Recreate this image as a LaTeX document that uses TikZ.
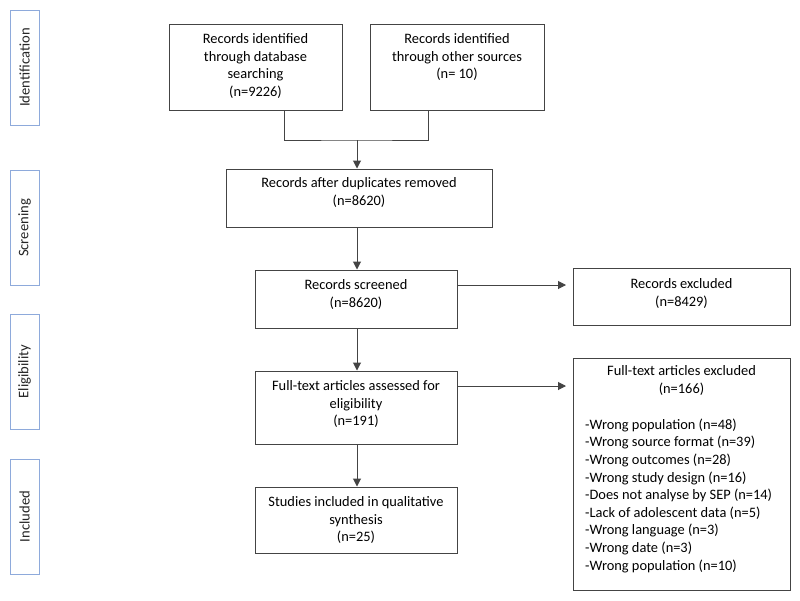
\documentclass[tikz,border=0pt]{standalone}
\usepackage{fontspec}
\setmainfont{Carlito}
\usetikzlibrary{arrows.meta}
\definecolor{boxline}{HTML}{444444}
\definecolor{sideline}{HTML}{8EAADB}
\definecolor{txtcol}{HTML}{000000}
\tikzset{
  mainbox/.style={draw=boxline, line width=1pt, inner sep=0pt, fill=white},
  sidebox/.style={draw=sideline, line width=1pt, inner sep=0pt, minimum width=29pt, minimum height=115pt},
  txt/.style={inner sep=0pt, text=txtcol, align=center, font={\fontsize{14.4}{17.6}\selectfont}},
  listtxt/.style={inner sep=0pt, text=txtcol, align=left, font={\fontsize{14.4}{17.6}\selectfont}},
  sidetxt/.style={inner sep=0pt, text=black!85, rotate=90, font={\fontsize{14.6}{17.6}\selectfont}},
  conn/.style={draw=boxline, line width=1pt},
  arr/.style={conn, -{Triangle[width=8pt,length=8pt]}}
}
\begin{document}
\begin{tikzpicture}[x=1pt, y=-1pt]
\useasboundingbox[fill=white] (0,0) rectangle (800,600);

% side labels
\node[sidebox] (sid) at (24.5,67.5) {};
\node[sidetxt] (sidt) at (sid.center) {Identification};
\node[sidebox] (ssc) at (24.5,228) {};
\node[sidetxt] (ssct) at (ssc.center) {Screening};
\node[sidebox] (sel) at (24.5,371.5) {};
\node[sidetxt] (selt) at (sel.center) {Eligibility};
\node[sidebox] (sin) at (24.5,516.5) {};
\node[sidetxt] (sint) at (sin.center) {Included};

% boxes
\node[mainbox, minimum width=173pt, minimum height=86pt] (a) at (255.5,67) {};
\node[txt, anchor=north] (at) at (255.5,33.5) {Records identified\\through database\\searching\\(n=9226)};

\node[mainbox, minimum width=174pt, minimum height=86pt] (b) at (457,67) {};
\node[txt, anchor=north] (bt) at (457,33.5) {Records identified\\through other sources\\(n= 10)};

\node[mainbox, minimum width=266pt, minimum height=58pt] (c) at (359,198) {};
\node[txt, anchor=north] (ct) at (359,177.5) {Records after duplicates removed\\[0.5pt](n=8620)};

\node[mainbox, minimum width=202pt, minimum height=58pt] (d) at (356,299) {};
\node[txt, anchor=north] (dt) at (356,279.5) {Records screened\\[0.5pt](n=8620)};

\node[mainbox, minimum width=217pt, minimum height=57pt] (e) at (681.5,296.5) {};
\node[txt, anchor=north] (et) at (681.5,278.5) {Records excluded\\[0.5pt](n=8429)};

\node[mainbox, minimum width=202pt, minimum height=73pt] (f) at (356,407.5) {};
\node[txt, anchor=north] (ft) at (356,380.5) {Full-text articles assessed for\\eligibility\\(n=191)};

\node[mainbox, minimum width=217pt, minimum height=232pt] (g) at (681.5,474) {};
\node[txt, anchor=north] (gt) at (681.5,365.5) {Full-text articles excluded\\(n=166)};
\node[listtxt, anchor=north west] (gl) at (585,418.5) {-Wrong population (n=48)\\-Wrong source format (n=39)\\-Wrong outcomes (n=28)\\-Wrong study design (n=16)\\-Does not analyse by SEP (n=14)\\-Lack of adolescent data (n=5)\\-Wrong language (n=3)\\-Wrong date (n=3)\\-Wrong population (n=10)};

\node[mainbox, minimum width=202pt, minimum height=66pt] (h) at (356,520) {};
\node[txt, anchor=north] (ht) at (356,496.5) {Studies included in qualitative\\synthesis\\(n=25)};

% connectors
\coordinate (m) at (357,140);
\draw[conn] (a.south -| 284,0) |- (m) -| (b.south -| 428,0);
\draw[arr] (m) -- (m |- c.north);
\draw[arr] (c.south -| 357,0) -- (d.north -| 357,0);
\draw[arr] (d.south -| 357,0) -- (f.north -| 357,0);
\draw[arr] (f.south -| 357,0) -- (h.north -| 357,0);
\coordinate (ee) at (566,285);
\draw[arr] (d.east |- ee) -- (ee);
\coordinate (ge) at (566,386);
\draw[arr] (f.east |- ge) -- (ge);
\end{tikzpicture}
\end{document}
